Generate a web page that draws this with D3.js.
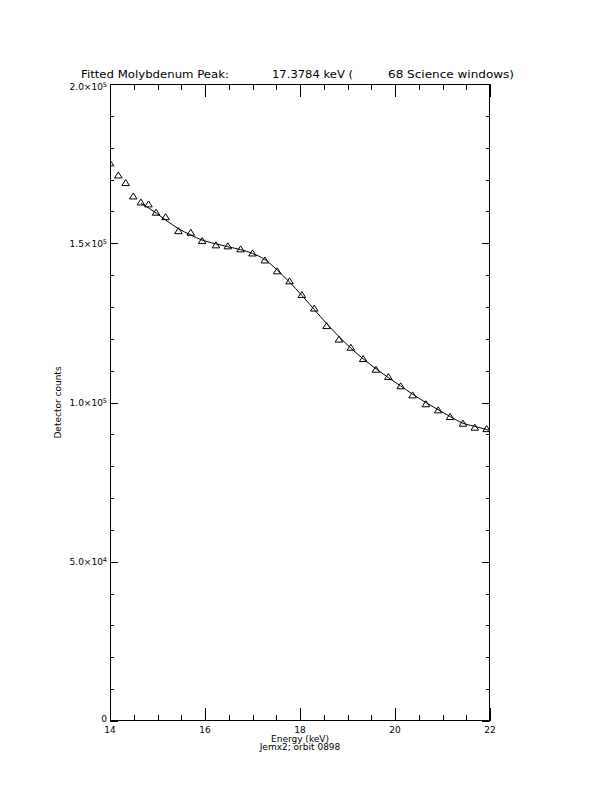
<!DOCTYPE html>
<html>
<head>
<meta charset="utf-8">
<script src="https://cdn.jsdelivr.net/npm/d3@7"></script>
<style>
  body { margin: 0; background: #fff; }
  text { font-family: "DejaVu Sans", sans-serif; fill: #000; }
</style>
</head>
<body>
<svg id="chart" width="612" height="792"></svg>
<script>
// ---- data ----
const energy = [14.00, 14.175, 14.33, 14.49, 14.65, 14.81, 14.97, 15.17, 15.44, 15.70, 15.94,
  16.23, 16.48, 16.75, 17.00, 17.26, 17.52, 17.78, 18.04, 18.30, 18.56, 18.82, 19.07,
  19.33, 19.60, 19.86, 20.12, 20.37, 20.65, 20.91, 21.16, 21.43, 21.68, 21.93];
const counts = [175200, 171400, 169000, 164800, 162900, 162300, 159700, 158300, 153900, 153400, 150800,
  149450, 149140, 148200, 146900, 144700, 141300, 138150, 133850, 129600, 124100, 119850, 117300,
  113750, 110400, 108100, 105200, 102350, 99550, 97650, 95550, 93450, 92200, 91750];
const fitEnergy = [14.65, 14.97, 15.2, 15.44, 15.7, 15.94, 16.23, 16.48, 16.75, 17.00, 17.26, 17.52, 17.78,
  18.04, 18.30, 18.56, 18.82, 19.07, 19.33, 19.60, 19.86, 20.12, 20.37, 20.65, 20.91, 21.16, 21.43, 21.68, 21.93, 22.0];
const fitCounts = [162600, 159500, 157000, 154600, 152600, 151000, 149800, 148900, 148000, 146800, 144900, 141600, 137800,
  133600, 129200, 124800, 120700, 117100, 113700, 110600, 107800, 105200, 102600, 100000, 97700, 95600, 93500, 92500, 91500, 91200];
const xMajorTicks = [14, 16, 18, 20, 22];
const xTickLabels = ["14", "16", "18", "20", "22"];
const yMajorTicks = [0, 50000, 100000, 150000, 200000];
const yTickMantissa = ["0", "5.0", "1.0", "1.5", "2.0"];
const yTickExponent = ["", "4", "5", "5", "5"];
const titleParts = ["Fitted Molybdenum Peak:", "17.3784 keV (", "68 Science windows)"];
const xTitle = "Energy (keV)";
const subTitle = "Jemx2; orbit 0898";
const yTitle = "Detector counts";

// ---- layout ----
const L = 110, R = 490, T = 84, B = 721;
const svg = d3.select("#chart");
const x = d3.scaleLinear().domain([14, 22]).range([L, R]);
const y = d3.scaleLinear().domain([0, 200000]).range([B, T]);

svg.append("defs").append("clipPath").attr("id", "clip")
  .append("rect").attr("x", L).attr("y", T).attr("width", R - L).attr("height", B - T);

// frame
svg.append("rect").attr("x", L + 0.5).attr("y", T + 0.5).attr("width", R - L - 1).attr("height", B - T - 1)
  .attr("fill", "none").attr("stroke", "#000").attr("stroke-width", 1).attr("shape-rendering", "crispEdges");

const xMinor = d3.range(14, 22.001, 0.5);
const yMinor = d3.range(0, 200001, 10000);
const xMajorLen = 13, xMinorLen = 6, yMajorLen = 8, yMinorLen = 4;

const isXMajor = v => xMajorTicks.some(t => Math.abs(t - v) < 1e-6);
const isYMajor = v => yMajorTicks.some(t => Math.abs(t - v) < 1e-6);

function drawTicks(axisGen, transform) {
  const g = svg.append("g").attr("transform", transform).call(axisGen);
  g.select(".domain").remove();
  g.selectAll("text").remove();
  g.selectAll("line").attr("stroke", "#000").attr("shape-rendering", "crispEdges");
  return g;
}
drawTicks(d3.axisBottom(x).tickValues(xMinor).tickSizeInner(0).tickSizeOuter(0), `translate(0,${B})`)
  .selectAll(".tick line").attr("y2", d => -(isXMajor(d) ? xMajorLen : xMinorLen));
drawTicks(d3.axisTop(x).tickValues(xMinor).tickSizeInner(0).tickSizeOuter(0), `translate(0,${T})`)
  .selectAll(".tick line").attr("y2", d => (isXMajor(d) ? xMajorLen : xMinorLen));
drawTicks(d3.axisLeft(y).tickValues(yMinor).tickSizeInner(0).tickSizeOuter(0), `translate(${L},0)`)
  .selectAll(".tick line").attr("x2", d => (isYMajor(d) ? yMajorLen : yMinorLen));
drawTicks(d3.axisRight(y).tickValues(yMinor).tickSizeInner(0).tickSizeOuter(0), `translate(${R},0)`)
  .selectAll(".tick line").attr("x2", d => -(isYMajor(d) ? yMajorLen : yMinorLen));

// x tick labels
svg.append("g").selectAll("text").data(xMajorTicks).join("text")
  .attr("x", d => x(d)).attr("y", B + 11.5)
  .attr("text-anchor", "middle").attr("font-size", 9)
  .text((d, i) => xTickLabels[i]);

// y tick labels
const yl = svg.append("g").selectAll("text").data(yMajorTicks).join("text")
  .attr("x", L - 3).attr("y", d => d === 0 ? y(d) + 0.5 : (d === 200000 ? y(d) + 5.5 : y(d) + 3.5))
  .attr("text-anchor", "end").attr("font-size", 9);
yl.each(function(d, i) {
  const t = d3.select(this);
  if (yTickExponent[i] === "") { t.text(yTickMantissa[i]); return; }
  t.append("tspan").text(yTickMantissa[i] + "×10");
  t.append("tspan").attr("dy", -3).attr("font-size", 6.5).text(yTickExponent[i]);
});

// titles
const titleX = [81, 272, 388];
const titleW = [148, 81, 126];
svg.append("g").selectAll("text").data(titleParts).join("text")
  .attr("x", (d, i) => titleX[i]).attr("y", 78).attr("font-size", 11)
  .attr("textLength", (d, i) => titleW[i]).attr("lengthAdjust", "spacingAndGlyphs")
  .text(d => d);

svg.append("text").attr("x", 300).attr("y", 741.5).attr("text-anchor", "middle")
  .attr("font-size", 9).text(xTitle);
svg.append("text").attr("x", 300).attr("y", 750).attr("text-anchor", "middle")
  .attr("font-size", 9).text(subTitle);
svg.append("text").attr("transform", `translate(61,${(T + B) / 2}) rotate(-90)`)
  .attr("text-anchor", "middle").attr("font-size", 9).text(yTitle);

// fit curve
const plot = svg.append("g").attr("clip-path", "url(#clip)");
plot.append("path")
  .datum(fitEnergy.map((e, i) => [e, fitCounts[i]]))
  .attr("fill", "none").attr("stroke", "#000").attr("stroke-width", 1)
  .attr("d", d3.line().x(d => x(d[0])).y(d => y(d[1])).curve(d3.curveMonotoneX));

// triangles
const tri = d3.symbol().type({
  draw(ctx, size) {
    const s = Math.sqrt(size) / 2;
    ctx.moveTo(0, -s);
    ctx.lineTo(s * 1.2, s * 0.9);
    ctx.lineTo(-s * 1.2, s * 0.9);
    ctx.closePath();
  }
}).size(40);
plot.append("g").selectAll("path").data(energy).join("path")
  .attr("transform", (d, i) => `translate(${x(d)},${y(counts[i])})`)
  .attr("d", tri)
  .attr("fill", "none").attr("stroke", "#000").attr("stroke-width", 1);
</script>
</body>
</html>
